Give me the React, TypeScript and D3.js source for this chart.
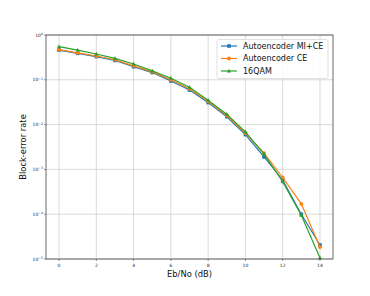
import React from 'react';
import * as d3 from 'd3';

const snr = [0, 1, 2, 3, 4, 5, 6, 7, 8, 9, 10, 11, 12, 13, 14];
const miCe = [0.46, 0.39, 0.33, 0.27, 0.196, 0.145, 0.094, 0.059, 0.031, 0.015, 0.006, 0.0019, 0.00058, 0.0001, 0.0000205];
const ce = [0.47, 0.4, 0.34, 0.28, 0.205, 0.15, 0.1, 0.063, 0.033, 0.016, 0.0065, 0.0023, 0.00066, 0.00017, 0.0000185];
const qam16 = [0.55, 0.46, 0.376, 0.3, 0.225, 0.158, 0.108, 0.068, 0.035, 0.017, 0.0069, 0.0022, 0.00053, 0.000095, 0.0000107];
const xTicks = [0, 2, 4, 6, 8, 10, 12, 14];
const yTicks = [0, -1, -2, -3, -4, -5];

const series = [
  { name: 'Autoencoder MI+CE', values: miCe, color: '#1f77b4', marker: 'square' },
  { name: 'Autoencoder CE', values: ce, color: '#ff7f0e', marker: 'circle' },
  { name: '16QAM', values: qam16, color: '#2ca02c', marker: 'triangle' },
];

function Marker({ kind, x, y, color }: { kind: string; x: number; y: number; color: string }) {
  if (kind === 'square') return <rect x={x - 1.8} y={y - 1.8} width={3.6} height={3.6} fill={color} />;
  if (kind === 'circle') return <circle cx={x} cy={y} r={1.9} fill={color} />;
  return <path d={`M${x},${y - 2.2}L${x + 2.1},${y + 1.5}L${x - 2.1},${y + 1.5}Z`} fill={color} />;
}

export default function App() {
  const margin = { left: 46, top: 35, right: 333, bottom: 259 };
  const x = d3.scaleLinear().domain([-0.7, 14.7]).range([margin.left, margin.right]);
  const y = d3.scaleLog().domain([1, 1e-5]).range([margin.top, margin.bottom]);
  const line = d3.line<number>().x((_, i) => x(snr[i])).y(d => y(d));

  return (
    <svg width={370} height={296} style={{ position: 'absolute', left: 0, top: 0, fontFamily: 'DejaVu Sans' }}>
      <rect width={370} height={296} fill="#fff" />
      {xTicks.map(t => (
        <line key={'gx' + t} x1={x(t)} x2={x(t)} y1={margin.top} y2={margin.bottom} stroke="#d0d0d0" strokeWidth={0.8} />
      ))}
      {yTicks.map(t => (
        <line key={'gy' + t} x1={margin.left} x2={margin.right} y1={y(Math.pow(10, t))} y2={y(Math.pow(10, t))} stroke="#d0d0d0" strokeWidth={0.8} />
      ))}
      {series.map(s => (
        <g key={s.name}>
          <path d={line(s.values) || ''} fill="none" stroke={s.color} strokeWidth={1.2} />
          {s.values.map((v, i) => (
            <Marker key={i} kind={s.marker} x={x(snr[i])} y={y(v)} color={s.color} />
          ))}
        </g>
      ))}
      <rect x={margin.left} y={margin.top} width={margin.right - margin.left} height={margin.bottom - margin.top} fill="none" stroke="#444" strokeWidth={0.8} />
      {xTicks.map(t => (
        <g key={'tx' + t}>
          <line x1={x(t)} x2={x(t)} y1={margin.bottom} y2={margin.bottom + 2} stroke="#444" strokeWidth={0.6} />
          <text x={x(t)} y={margin.bottom + 7.5} fontSize={4.5} textAnchor="middle" fill="#222">{t}</text>
        </g>
      ))}
      {yTicks.map(t => (
        <g key={'ty' + t}>
          <line x1={margin.left - 2} x2={margin.left} y1={y(Math.pow(10, t))} y2={y(Math.pow(10, t))} stroke="#444" strokeWidth={0.6} />
          <text x={margin.left - 3} y={y(Math.pow(10, t)) + 1.5} fontSize={4.5} textAnchor="end" fill="#222">
            10<tspan dy={-1.6} fontSize={3.2}>{t === 0 ? '0' : '\u2212' + -t}</tspan>
          </text>
        </g>
      ))}
      <text x={(margin.left + margin.right) / 2} y={277} fontSize={8.4} textAnchor="middle" fill="#111">Eb/No (dB)</text>
      <text transform={`translate(26,${(margin.top + margin.bottom) / 2}) rotate(-90)`} fontSize={8.4} textAnchor="middle" fill="#111">Block-error rate</text>
      <g>
        <rect x={217} y={39.5} width={111} height={39} rx={2} fill="#fff" fillOpacity={0.85} stroke="#d8d8d8" strokeWidth={0.8} />
        {series.map((s, i) => {
          const ly = 46 + i * 12.5;
          return (
            <g key={'l' + s.name}>
              <line x1={221} x2={237} y1={ly} y2={ly} stroke={s.color} strokeWidth={1.2} />
              <Marker kind={s.marker} x={229} y={ly} color={s.color} />
              <text x={243} y={ly + 2.9} fontSize={8} fill="#111">{s.name}</text>
            </g>
          );
        })}
      </g>
    </svg>
  );
}
